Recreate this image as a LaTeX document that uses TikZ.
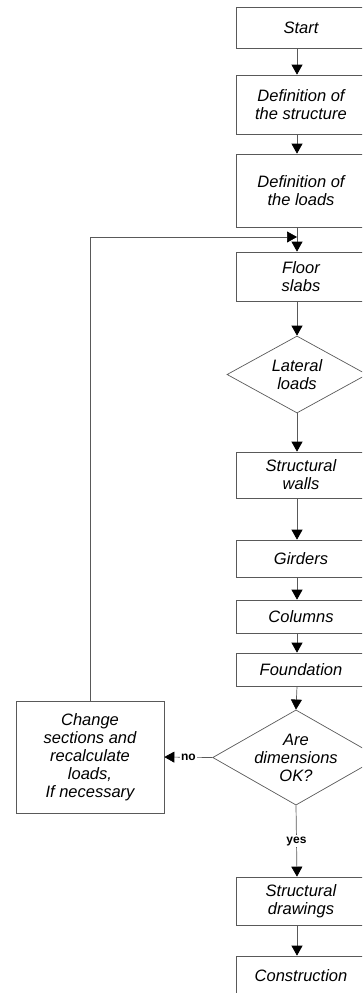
\documentclass[tikz,border=0pt]{standalone}
\usepackage{fontspec}
\setmainfont{Liberation Sans}
\usetikzlibrary{shapes.geometric,arrows.meta,calc,positioning}
\definecolor{linegray}{rgb}{.35,.35,.35}
\tikzstyle{box} = [draw=linegray, line width=0.7pt, rectangle, minimum width=130pt,
  inner sep=0pt, align=center, font=\itshape\fontsize{16.5}{18}\selectfont]
\tikzstyle{decision} = [draw=linegray, line width=0.7pt, diamond, inner sep=0pt,
  align=center, font=\itshape\fontsize{16.5}{18}\selectfont]
\tikzstyle{flow} = [-{Triangle[width=11pt,length=10pt,color=black]}, line width=0.7pt, draw=linegray]
\tikzstyle{lbl} = [fill=white, inner sep=1.5pt, font=\bfseries\fontsize{12}{13}\selectfont]

\begin{document}
\begin{tikzpicture}[x=1pt,y=-1pt]
  \useasboundingbox (0,0) rectangle (362,993);
  \clip (0,0) rectangle (362,993); % right side is cut off
  \coordinate (spine) at (297,0);
  \coordinate (join) at (297,237);

  % main column
  \node[box, minimum height=41pt] (start) at (301,27.5) {Start};
  \node[box, minimum height=59pt] (defstruct) at (301,104.5) {Definition of\\the structure};
  \node[box, minimum height=73pt] (defloads) at (301,190.5) {Definition of\\the loads};
  \node[box, minimum height=49pt] (floor) at (301,276.5) {Floor\\slabs};
  \node[decision, minimum width=140pt, minimum height=77pt, aspect=1.8] (lateral) at (297,374.5) {Lateral\\loads};
  \node[box, minimum height=46pt] (walls) at (301,475) {Structural\\walls};
  \node[box, minimum height=37pt] (girders) at (301,558.5) {Girders};
  \node[box, minimum height=33pt] (columns) at (301,616.5) {Columns};
  \node[box, minimum height=33pt] (foundation) at (301,669.5) {Foundation};
  \node[decision, minimum width=152pt, minimum height=87pt, aspect=1.75] (check) at (296,757.5) {Are\\dimensions\\OK?};
  \node[box, minimum height=48pt] (drawings) at (301,901) {Structural\\drawings};
  \node[box, minimum height=40pt] (construction) at (301,976) {Construction};

  % side branch
  \node[box, minimum width=148pt, minimum height=112pt] (change) at (90,757) {Change\\sections and\\recalculate\\loads,\\If necessary};

  \draw[flow] (start.south -| spine) -- (defstruct.north -| spine);
  \draw[flow] (defstruct.south -| spine) -- (defloads.north -| spine);
  \draw[flow] (defloads.south -| spine) -- (floor.north -| spine);
  \draw[flow] (floor.south -| spine) -- (lateral.north);
  \draw[flow] (lateral.south) -- (walls.north -| spine);
  \draw[flow] (walls.south -| spine) -- (girders.north -| spine);
  \draw[flow] (girders.south -| spine) -- (columns.north -| spine);
  \draw[flow] (columns.south -| spine) -- (foundation.north -| spine);
  \draw[flow] (foundation.south -| spine) -- (check.north);
  \draw[flow] (check.south) -- node[lbl] {yes} (drawings.north -| spine);
  \draw[flow] (drawings.south -| spine) -- (construction.north -| spine);

  % loop back
  \draw[flow] (check.west) -- node[lbl] {no} (change.east);
  \draw[flow] (change.north) |- (join);
\end{tikzpicture}
\end{document}
